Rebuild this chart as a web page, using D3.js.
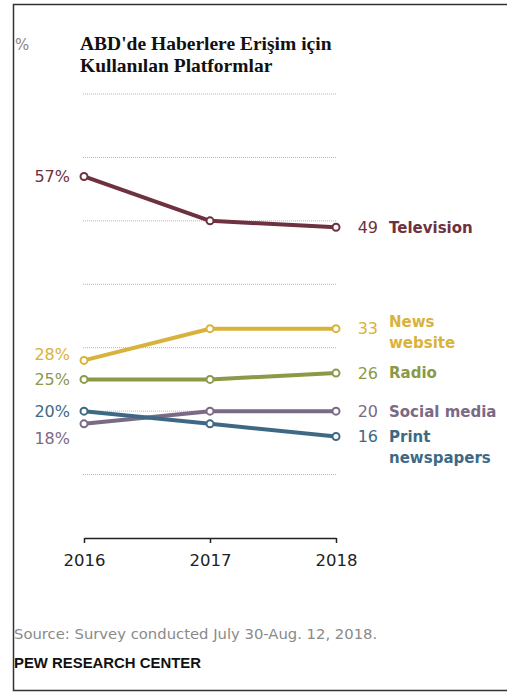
<!DOCTYPE html>
<html>
<head>
<meta charset="utf-8">
<script src="https://cdn.jsdelivr.net/npm/d3@7"></script>
<style>
  body { margin: 0; background: #fff; }
  svg { display: block; }
</style>
</head>
<body>
<script>
// DATA
const years = [2016, 2017, 2018]
const series = ['Television', 'News website', 'Radio', 'Social media', 'Print newspapers']
const television = [57, 50, 49]
const newsWebsite = [28, 33, 33]
const radio = [25, 25, 26]
const socialMedia = [18, 20, 20]
const printNews = [20, 18, 16]
const gridValues = [10, 20, 30, 40, 50, 60, 70]

const colors = ['#6e3140', '#d9b23c', '#8a9a48', '#7b6a85', '#3e6985']
const rows = [television, newsWebsite, radio, socialMedia, printNews]

const width = 507, height = 693
const labelFont = 'DejaVu Sans, Verdana, sans-serif'

const svg = d3.select('body').append('svg')
    .attr('width', width)
    .attr('height', height)

// frame
svg.append('path')
    .attr('d', `M${width + 5},4.5 H13.5 V690.5 H${width + 5}`)
    .attr('fill', 'none')
    .attr('stroke', '#333')
    .attr('stroke-width', 1.5)

// SCALES
const x = d3.scalePoint().domain(years).range([84, 336])
const y = d3.scaleLinear().domain([0, 70]).range([538, 94])

// grid
svg.append('g').selectAll('line')
    .data(gridValues)
    .enter().append('line')
      .attr('x1', 83).attr('x2', 337)
      .attr('y1', d => y(d)).attr('y2', d => y(d))
      .attr('stroke', '#b5b5b5')
      .attr('stroke-width', 1)
      .attr('stroke-dasharray', '1,1')

// axis
const axis = svg.append('g')
    .attr('transform', `translate(0,${y(0)})`)
    .call(d3.axisBottom(x).tickSize(-5).tickSizeOuter(0).tickPadding(14))
axis.select('.domain').attr('stroke', '#222').attr('stroke-width', 1.5)
axis.selectAll('.tick line').attr('stroke', '#222').attr('stroke-width', 1.5).attr('y2', 5)
axis.selectAll('.tick text')
    .attr('font-family', labelFont)
    .attr('font-size', 16.5)
    .attr('fill', '#222')
    .attr('dy', '0.85em')

// title
svg.append('text')
    .attr('x', 15).attr('y', 50)
    .attr('font-family', labelFont)
    .attr('font-size', 15)
    .attr('fill', '#888')
    .text('%')

const title = svg.append('text')
    .attr('x', 80).attr('y', 50)
    .attr('font-family', 'Liberation Serif, Times New Roman, serif')
    .attr('font-weight', 'bold')
    .attr('font-size', 19.5)
    .attr('fill', '#111')
title.append('tspan').attr('x', 80).text("ABD'de Haberlere Erişim için")
title.append('tspan').attr('x', 80).attr('dy', 22).text('Kullanılan Platformlar')

// lines
const line = d3.line()
    .x((d, i) => x(years[i]))
    .y(d => y(d))

const lines = svg.append('g')
rows.forEach(function(vals, k) {
  lines.append('path')
      .datum(vals)
      .attr('d', line)
      .attr('fill', 'none')
      .attr('stroke', colors[k])
      .attr('stroke-width', 4)
      .attr('stroke-linejoin', 'round')
})
rows.forEach(function(vals, k) {
  lines.append('g').selectAll('circle')
      .data(vals)
      .enter().append('circle')
        .attr('cx', (d, i) => x(years[i]))
        .attr('cy', d => y(d))
        .attr('r', 3.5)
        .attr('fill', '#fff')
        .attr('stroke', colors[k])
        .attr('stroke-width', 2)
})

// left labels (2016)
const leftNudge = [0, -6, 0, 14, 0]
rows.forEach(function(vals, k) {
  svg.append('text')
      .attr('x', 70)
      .attr('y', y(vals[0]) + leftNudge[k])
      .attr('dy', '0.36em')
      .attr('text-anchor', 'end')
      .attr('font-family', labelFont)
      .attr('font-size', 16)
      .attr('fill', colors[k])
      .text(vals[0] + '%')
})

// right labels (2018)
const nameLines = [['Television'], ['News', 'website'], ['Radio'], ['Social media'], ['Print', 'newspapers']]
const nameNudge = [0, -7, 0, 0, 0]
rows.forEach(function(vals, k) {
  const yy = y(vals[2])
  svg.append('text')
      .attr('x', 378)
      .attr('y', yy)
      .attr('dy', '0.36em')
      .attr('text-anchor', 'end')
      .attr('font-family', labelFont)
      .attr('font-size', 16)
      .attr('fill', colors[k])
      .text(vals[2])
  const t = svg.append('text')
      .attr('x', 389)
      .attr('y', yy + nameNudge[k])
      .attr('font-family', labelFont)
      .attr('font-weight', 'bold')
      .attr('font-size', 15)
      .attr('fill', colors[k])
  nameLines[k].forEach(function(s, j) {
    t.append('tspan').attr('x', 389).attr('dy', j ? 21 : '0.36em').text(s)
  })
})

// footer
svg.append('text')
    .attr('x', 14).attr('y', 639)
    .attr('font-family', labelFont)
    .attr('font-size', 14.8)
    .attr('fill', '#8a8a8a')
    .text('Source: Survey conducted July 30-Aug. 12, 2018.')

svg.append('text')
    .attr('x', 14).attr('y', 668)
    .attr('font-family', 'Liberation Sans, Arial, sans-serif')
    .attr('font-weight', 'bold')
    .attr('font-size', 14.9)
    .attr('fill', '#111')
    .text('PEW RESEARCH CENTER')
</script>
</body>
</html>
